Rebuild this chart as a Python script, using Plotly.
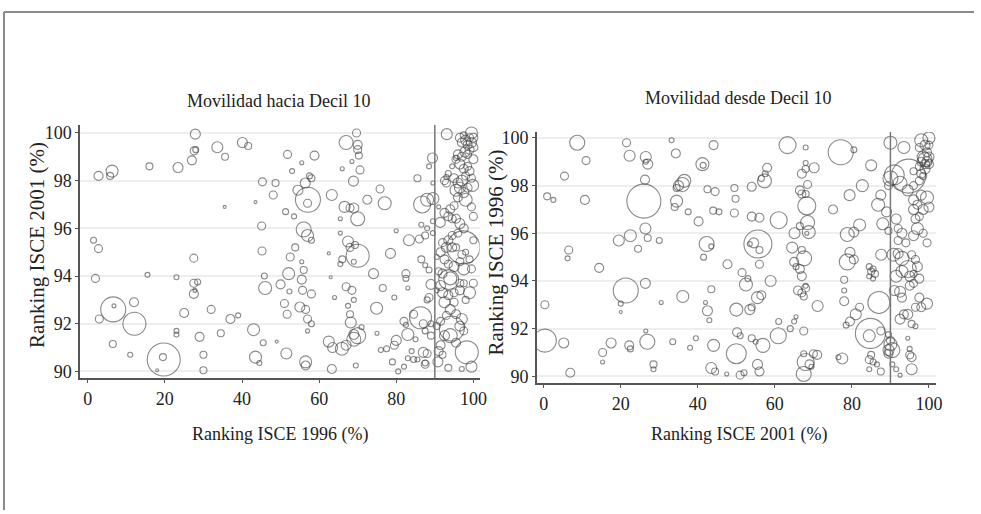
import plotly.graph_objects as go

# ---------------- DATA (x, y, bubble size) ----------------
# Panel 1: Movilidad hacia Decil 10  (x = Ranking ISCE 1996, y = Ranking ISCE 2001)
hacia_low = [
    (2.8,98.2,9),(6.3,98.4,12),(5.8,98.2,7),(16,98.6,7),(23.4,98.55,10),(27.9,99.95,10),(27.6,99.25,8),(28,99.3,6),(27,98.85,9),(33.6,99.4,11),
    (35.6,99.0,7),(40.1,99.6,10),(41.6,99.45,7),(51.8,99.1,8),(53,98.4,5),(55.5,98.75,4),(58.8,99.05,9),(57.5,98.2,6),(58,98.1,7),(56.4,97.9,10),
    (54.5,97.6,10),(57.1,97.2,25),(57,97.05,8),(45.3,97.95,8),(48.7,97.9,7),(48.1,97.4,8),(43.5,97.1,3),(35.5,96.9,3),(51.3,96.7,6),(53.5,96.5,5),
    (45.1,96.1,8),(56,95.95,15),(57,95.7,12),(58,95.5,6),(53.8,95.2,7),(45.2,95.05,8),(52.5,94.8,8),(55.5,94.6,4),(56,94.25,7),(52.1,94.1,12),
    (55.5,93.85,9),(45.8,94.0,6),(46,93.5,13),(50,93.65,9),(55.7,93.4,8),(52.3,93.35,5),(58,93.25,8),(51,92.85,8),(55,92.7,10),(56.5,92.6,8),
    (51.7,92.4,8),(57,92.2,8),(58,92.0,6),(57,91.7,4),(43,91.75,12),(45.5,91.2,6),(49,91.25,3),(51.5,90.75,11),(43.5,90.6,12),(44.5,90.35,5),
    (56.5,90.4,12),(56.5,90.25,9),(32,92.6,8),(34.5,91.6,7),(37,92.2,9),(39,92.35,5),(29,91.45,9),(30,90.7,7),(30,90.05,7),(25,92.45,9),
    (23,91.7,5),(23,91.55,5),(12.1,92.0,23),(12,92.9,9),(6.6,92.6,25),(6.8,92.75,4),(3,92.2,8),(6.5,91.15,7),(11,90.7,5),(19.7,90.5,33),
    (19.5,90.6,7),(18,90.05,3),(1.5,95.5,6),(2.8,95.15,8),(2,93.9,8),(15.5,94.05,5),(23,93.95,5),(27.5,94.75,8),(27.5,93.7,8),(28.5,93.75,6),
    (27.5,93.25,9),(27.8,93.4,4),
]
hacia_mid = [
    (67,99.6,14),(69.7,100,8),(70,99.5,9),(70,99.3,8),(70.3,99.05,7),(70.6,98.45,8),(68.5,98.8,4),(66,98.5,4),(68.9,97.98,10),(63.3,97.4,11),
    (66.6,96.9,11),(68,96.85,8),(69,96.85,10),(70,96.4,14),(72.5,97.2,9),(65.5,96.4,4),(65.5,95.8,4),(67.5,95.45,11),(68,95.2,8),(69.3,95.3,7),
    (70,94.85,23),(69,94.6,5),(66,94.7,7),(65.5,94.5,5),(62.5,94.95,3),(63,93.95,3),(64,93.1,4),(67,93.55,8),(68.5,93.4,8),(69,93.0,5),
    (67.5,92.75,5),(68,92.4,7),(68.2,92.05,11),(69,91.55,10),(70,91.5,16),(69,91.35,14),(71,91.85,5),(62.5,91.25,11),(63.5,91.0,10),(65.9,90.95,13),
    (67,91.1,10),(63.3,90.1,9),(69.5,90.25,5),(75,91.6,4),(74.1,94.1,10),(78.5,94.95,10),(76.5,93.5,7),(79.5,93.1,5),(74.9,92.65,12),(75.8,97.65,8),
    (77,97.05,13),(80,95.9,4),(82.5,94.1,8),(82.5,93.9,6),(83,93.5,4),(82,92.1,8),(82.5,91.95,5),(83,91.55,12),(84.5,92.4,8),(86.3,92.25,22),
    (87,92.0,8),(87.5,91.7,6),(85,91.35,5),(84,90.85,5),(85.5,90.5,5),(84.5,90.5,6),(83,90.55,5),(80,91.3,10),(79.5,91.1,8),(77.5,90.95,6),
    (76,90.9,5),(79,90.4,6),(80.5,90.0,5),(82,90.2,5),(87,90.8,10),(88,90.75,8),(87.5,90.3,8),(87.5,90.35,6),(89,91.5,7),(89,92.0,6),
    (86.7,97.0,17),(88,97.2,13),(89.5,97.25,12),(85.5,98.1,7),(89.4,98.95,10),(88.5,98.6,5),(86.5,96.15,5),(88,96.0,5),(86,95.55,8),(87.5,95.7,7),
    (83.3,95.5,11),(86.5,94.7,7),(87.5,94.45,5),(88.5,94.25,6),(89,93.65,10),(88.5,93.1,8),(88,93.0,6),(89.5,95.8,5),(89.5,96.3,5),(89.5,97.9,4),
]
hacia_top = [
    (93.1,99.95,11),(96.5,99.8,9),(97,99.6,9),(97.5,99.9,7),(98,99.7,10),(98.5,99.5,9),(99,99.8,8),(99.5,100,12),(100,99.8,9),(99.5,99.6,10),
    (100,99.4,9),(99,99.3,9),(98.5,99.1,8),(97.8,99.2,10),(97,99.0,9),(96,99.1,9),(95.5,98.9,8),(96.5,98.7,10),(97.5,98.5,9),(98.5,98.6,8),
    (99,98.4,9),(100,98.9,9),(99.5,98.1,8),(98,98.2,8),(97,98.0,11),(96,97.9,10),(95,98.1,9),(93.5,98.3,6),(93,97.9,8),(95.5,97.6,12),
    (96.5,97.7,11),(97.5,97.5,10),(98,97.2,13),(96,97.3,9),(95,96.95,8),(94,96.8,9),(93.5,96.5,9),(92.5,96.65,9),(94.5,96.4,8),(95.5,96.4,9),
    (96.5,96.2,10),(97.5,96.0,9),(96,95.8,8),(94.5,95.7,8),(93.5,95.5,9),(92,95.4,8),(91.5,95.0,9),(93,95.2,10),(94.5,95.2,9),(95.5,95.2,7),
    (97.4,95.2,33),(97,94.9,8),(98,95.0,6),(92.5,94.7,9),(93.5,94.5,8),(95,94.4,10),(96.5,94.6,8),(97.5,94.3,12),(91,94.2,7),(92,94.1,9),
    (94,93.9,13),(93.6,93.85,20),(91.5,93.6,10),(92,93.3,10),(93.5,93.2,9),(95,93.3,8),(96.5,93.4,9),(99,93.3,12),(98,93.0,7),(95,92.9,8),
    (92.5,92.9,11),(94,92.6,10),(93,92.35,8),(95.5,92.4,9),(97,92.2,11),(91.5,92.1,8),(90.5,91.9,7),(94.4,91.8,25),(92.5,91.5,10),(94,91.5,14),
    (95.5,91.2,9),(96.5,91.9,10),(97.5,91.7,8),(91.5,91.1,9),(91,90.85,9),(92,90.7,7),(90.8,90.4,10),(93.5,90.15,7),(98.3,90.8,23),(99.5,90.2,11),
    (97,90.1,5),(100,93.7,8),(99.5,94.3,8),(100,96.5,8),(99.8,97.8,12),(98.5,97.7,9),(99.5,96.9,8),(100,95.5,7),(99,94.7,7),(96.5,93.7,8),
    (97.5,93.7,7),(90.5,94.8,5),(90.5,93.4,5),(91.4,96.25,10),(91,96.9,4),(92.5,98.0,8),(93,98.15,5),(94.5,98.6,5),(95.5,98.95,5),
]

# Panel 2: Movilidad desde Decil 10  (x = Ranking ISCE 2001, y = Ranking ISCE 1996)
desde_low = [
    (8.7,99.8,15),(11,99.05,8),(5.4,98.4,8),(0.9,97.55,7),(2.5,97.4,5),(10.7,97.4,9),(6.5,95.3,8),(6.2,94.95,5),(14.4,94.55,9),(0.3,93.0,8),
    (0.3,91.5,23),(5.2,91.4,10),(6.9,90.15,9),(15.3,91.0,8),(15.3,90.6,4),(17.5,91.4,10),(20,93.05,5),(20,92.7,3),(21.3,93.6,25),(22.2,91.3,9),
    (22.5,91.15,6),(21.5,99.8,8),(22.3,99.25,11),(26.5,99.2,11),(26.5,99.0,5),(27,98.9,10),(26.3,98.25,9),(26,97.35,34),(26.4,96.2,11),(27,95.8,7),
    (30,95.7,6),(24.5,95.35,7),(19.5,95.7,11),(22.5,95.9,12),(26.4,93.9,10),(30.5,93.1,4),(26.5,91.9,4),(26.9,91.45,15),(28.5,90.5,7),(28.5,90.3,5),
    (33.2,99.9,5),(34.3,99.35,9),(34.5,97.9,7),(35,98.0,10),(36.5,98.2,13),(36,98.05,14),(34.5,97.35,12),(34,97.1,7),(37.5,96.9,6),(36.1,93.35,12),
    (33.5,91.45,6),(38,91.2,5),(39.5,91.6,5),(41.2,98.9,13),(41.4,98.85,6),(44.1,99.7,9),(42.5,97.85,7),(44.5,97.75,8),(44,96.95,7),(45.5,96.9,6),
    (40.2,96.5,9),(42.3,95.55,15),(41.5,95.0,6),(43.5,95.45,5),(43.5,93.65,7),(42.5,92.75,10),(42,93.1,4),(43,92.35,5),(44.1,91.3,12),(43.5,90.35,11),
    (44.5,90.2,7),(47.5,90.1,4),(47.7,94.7,9),(49.5,97.9,7),(49.8,97.45,7),(49.5,96.85,8),(50,92.8,13),(50.2,91.85,9),(51,91.7,6),(50,90.95,20),
    (51,90.05,8),(52,90.15,6),(51.5,94.35,8),(53,94.1,6),(52.5,93.85,13),(53.5,92.8,10),(54,92.9,7),(54,91.6,7),(55,91.45,5),(54,96.7,9),
    (56,96.65,9),(54,97.95,9),(55.6,95.55,28),(54.5,95.6,10),(53.5,95.55,5),(56,95.3,7),(56,94.7,8),(55.5,93.3,12),(56.5,93.4,9),(56.9,91.3,14),
    (55.5,90.5,10),(56,90.2,9),(58,98.75,9),(57.5,98.5,6),(57.3,98.2,14),(56.5,98.3,6),(58.9,94.0,11),
]
desde_mid = [
    (61,96.55,17),(61,92.3,6),(60.9,91.7,16),
    (63.3,99.7,17),(64,92.0,6),(65,92.3,5),(65.5,92.5,4),(64.5,95.4,11),(65,94.8,9),(65.5,94.6,6),(65.1,96.0,11),(66.5,96.3,7),(66.5,97.8,9),
    (67,97.65,8),(67,98.5,9),(68,98.7,7),(68,98.95,5),(68,99.6,5),(68.5,98.05,8),(68,97.65,7),(68.3,97.15,18),(68.5,96.45,14),(68.8,96.05,13),
    (68.3,96.0,4),(67,95.3,7),(67.6,94.95,15),(66.5,94.5,9),(67,94.2,9),(66,93.6,9),(67,93.5,8),(68,93.7,8),(67.5,93.35,7),(68,93.8,5),
    (67.5,91.9,8),(67.5,90.95,6),(68,90.6,17),(67.5,90.1,15),(69,90.5,9),(70,90.95,8),(71,90.9,9),(69.5,90.4,5),(70.2,98.75,10),(71.1,92.95,11),
    (75.1,97.0,9),(77.1,99.4,25),(80.5,99.5,6),(79.4,97.6,11),(82.7,98.0,12),(85,98.85,11),(78.8,95.95,14),(80.5,96.05,10),(82,96.35,12),(79.5,95.2,10),
    (80.5,94.9,9),(78.8,94.8,16),(78,93.6,5),(78,94.05,7),(78,93.15,9),(82,92.9,8),(81,92.6,11),(79.5,92.3,9),(78.5,92.15,6),(77.5,90.75,11),
    (76.5,90.8,5),(84.5,94.6,6),(85,94.4,7),(85.5,94.5,6),(84.5,94.2,5),(86,94.3,7),(85.5,94.1,5),(87.6,95.1,11),(87,93.1,22),(84.8,91.8,30),
    (84.5,91.7,12),(87.5,91.9,8),(85,90.9,7),(84.5,90.7,8),(85.5,90.6,6),(84.5,90.3,5),(87.5,90.2,7),(86.5,90.5,5),(87.5,97.6,10),(86.8,97.2,13),
    (88,96.4,12),(89,96.9,10),(89.5,96.1,7),(89.5,91.1,11),(89.5,90.95,9),(89.5,91.75,6),(89.5,98.0,8),
]
desde_top = [
    (90,91.35,13),(90.5,91.1,15),(90,91.5,8),(90.5,90.5,5),
    (91.5,90.3,5),(92.5,90.05,4),(90,99.8,13),(90,98.3,15),(91,98.45,20),(93.5,99.6,12),(92.5,98.1,14),(94.7,98.4,34),(94.5,97.8,11),
    (96,97.4,10),(90.8,95.1,13),(92,95.15,10),(93,94.95,14),(91.5,94.2,12),(93,94.4,12),(94.5,94.5,17),(95,94.2,10),(91,93.6,10),(92.5,93.55,11),
    (93,93.3,9),(92.5,92.4,10),(93.5,92.6,9),(94.5,92.6,10),(95.5,92.2,7),(96.5,92.1,5),(94.5,91.6,4),(95,90.9,8),(95.5,90.8,9),(95,91.15,5),
    (95.5,90.3,11),(91.5,96.6,10),(92,96.2,8),(93,96.0,10),(92,95.7,8),(94,95.6,8),(96,95.9,10),(97,96.2,12),(98.5,96.0,8),(99.5,95.6,8),
    (95.5,95.1,8),(96.5,94.9,8),(97,94.6,10),(96,94.3,7),(97.5,94.1,9),(96,93.9,8),(95,93.8,9),(97.5,93.3,9),(99.5,93.05,11),(98,92.9,9),
    (96.5,92.9,8),(96,97.0,10),(97,97.2,9),(96.5,96.6,9),(97.5,96.7,8),(98,97.6,10),(99.5,97.5,13),(98.5,97.0,10),(100,97.1,10),(97.5,98.2,8),
    (98,98.5,9),(99,98.7,10),(100,98.9,9),(98,99.9,13),(99,99.7,10),(100,100,12),(99.5,99.4,9),(98.5,99.2,12),(99,99.1,14),(99.5,99.0,10),
    (100,99.2,10),(98,99.0,9),(99,98.9,9),(97.5,99.6,8),(100,99.7,8),(97.5,98.8,8),(98.5,98.4,7),(96,98.0,8),(96,98.6,7),
]

x_ticks = [0, 20, 40, 60, 80, 100]
y_ticks = [90, 92, 94, 96, 98, 100]
threshold = 90

titles = ["Movilidad hacia Decil 10", "Movilidad desde Decil 10"]
x_titles = ["Ranking ISCE 1996 (%)", "Ranking ISCE 2001 (%)"]
y_titles = ["Ranking ISCE 2001 (%)", "Ranking ISCE 1996 (%)"]

# ---------------- FIGURE ----------------
W, H = 981, 514
FONT = "Liberation Serif, Times New Roman, serif"
CIRC = "rgba(60,60,60,0.85)"


def px(v):
    return v / W


def py(v):
    return 1 - v / H


def bubble_trace(points, xa, ya):
    return go.Scatter(
        x=[p[0] for p in points], y=[p[1] for p in points],
        mode="markers", xaxis=xa, yaxis=ya, showlegend=False, hoverinfo="skip",
        marker=dict(size=[p[2] for p in points], color="rgba(0,0,0,0)",
                    line=dict(color=CIRC, width=1.1)),
    )


fig = go.Figure()
for pts in (hacia_low, hacia_mid, hacia_top):
    fig.add_trace(bubble_trace(pts, "x", "y"))
for pts in (desde_low, desde_mid, desde_top):
    fig.add_trace(bubble_trace(pts, "x2", "y2"))

axis_common = dict(
    showline=True, linecolor="#555", linewidth=2, ticks="outside", ticklen=3,
    tickcolor="#555", zeroline=False, tickfont=dict(family=FONT, size=18, color="#222"),
)

fig.update_layout(
    width=W, height=H, margin=dict(l=0, r=0, t=0, b=0),
    paper_bgcolor="white", plot_bgcolor="white",
    xaxis=dict(domain=[px(81), px(483)], range=[-1.9, 101.6], tickvals=x_ticks,
               showgrid=False, anchor="y", **axis_common),
    yaxis=dict(domain=[py(380), py(123)], range=[89.72, 100.33], tickvals=y_ticks,
               showgrid=True, gridcolor="#eeeeee", gridwidth=2, anchor="x", **axis_common),
    xaxis2=dict(domain=[px(541), px(943)], range=[-1.7, 101.9], tickvals=x_ticks,
                showgrid=False, anchor="y2", **axis_common),
    yaxis2=dict(domain=[py(385), py(130)], range=[89.72, 100.25], tickvals=y_ticks,
                showgrid=True, gridcolor="#eeeeee", gridwidth=2, anchor="x2", **axis_common),
)

# threshold lines
for xr, yr in (("x", "y domain"), ("x2", "y2 domain")):
    fig.add_shape(type="line", xref=xr, yref=yr, x0=threshold, x1=threshold, y0=0, y1=1,
                  line=dict(color="#777", width=1.5))

# outer frame (top and left)
fig.add_shape(type="line", xref="paper", yref="paper", x0=px(4), x1=1, y0=py(8), y1=py(8),
              line=dict(color="#8a8a8a", width=2))
fig.add_shape(type="line", xref="paper", yref="paper", x0=px(4), x1=px(4), y0=py(8), y1=0,
              line=dict(color="#8a8a8a", width=2))

# titles
ann = [
    (titles[0], 280, 99, 0, 18), (titles[1], 743, 95, 0, 18),
    (x_titles[0], 282, 437, 0, 18), (x_titles[1], 744, 437, 0, 18),
    (y_titles[0], 37, 245, -90, 21), (y_titles[1], 500, 252, -90, 21),
]
for text, ax_, ay_, ang, size in ann:
    fig.add_annotation(text=text, xref="paper", yref="paper", x=px(ax_), y=py(ay_),
                       xanchor="center", yanchor="middle", showarrow=False, textangle=ang,
                       font=dict(family=FONT, size=size, color="#222"))

fig.write_html("out.html")
